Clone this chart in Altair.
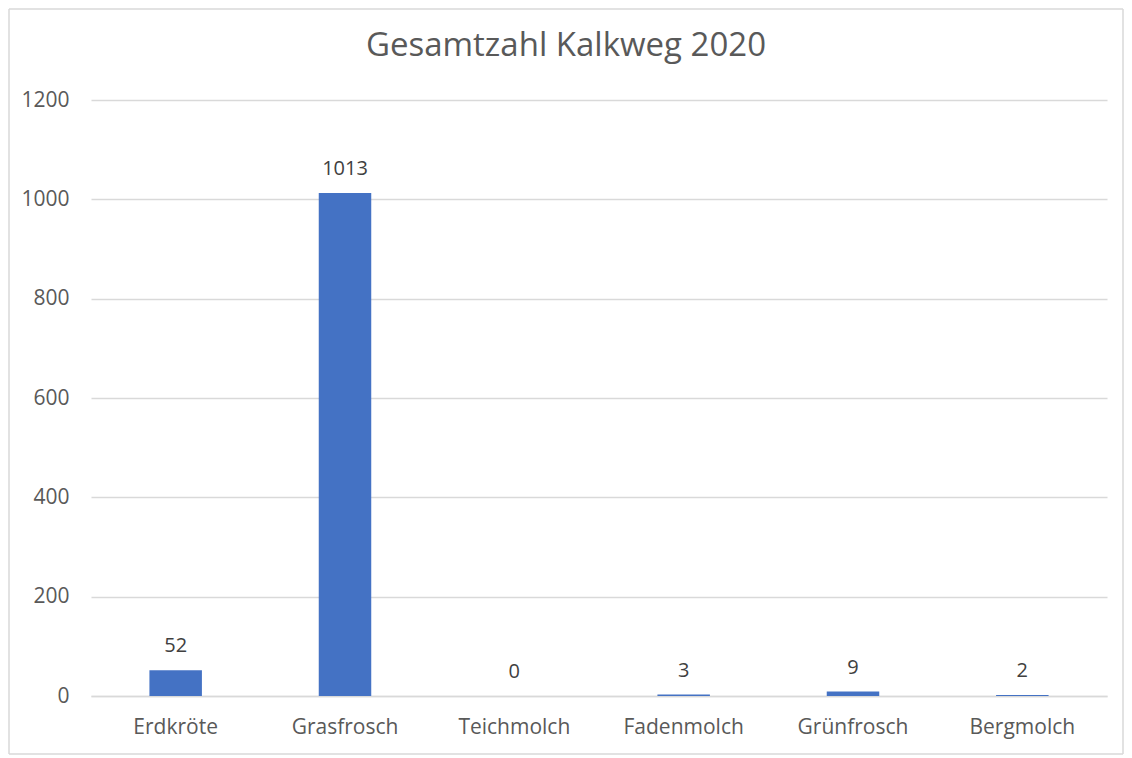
import altair as alt
import pandas as pd

species = ["Erdkröte", "Grasfrosch", "Teichmolch", "Fadenmolch", "Grünfrosch", "Bergmolch"]
counts = [52, 1013, 0, 3, 9, 2]
y_ticks = [0, 200, 400, 600, 800, 1000, 1200]

df = pd.DataFrame({"Art": species, "Anzahl": counts})

FONT = "Open Sans"
TXT = "#595959"
GRID = "#D9D9D9"
FS = 21

x = alt.X("Art:N", sort=species, title=None,
          scale=alt.Scale(paddingInner=0.69, paddingOuter=0.345),
          axis=alt.Axis(labelAngle=0, labelFont=FONT, labelFontSize=FS, labelColor=TXT,
                        labelPadding=20, ticks=False, domainColor=GRID, domainWidth=1.3,
                        grid=False))
y = alt.Y("Anzahl:Q", title=None,
          scale=alt.Scale(domain=[0, 1200], nice=False),
          axis=alt.Axis(values=y_ticks, format="d", labelFont=FONT, labelFontSize=FS,
                        labelColor=TXT, labelPadding=22, ticks=False, domain=False,
                        gridColor=GRID, gridWidth=1.3))

bars = alt.Chart(df).mark_bar(color="#4472C4").encode(x=x, y=y)
labels = alt.Chart(df).mark_text(font=FONT, fontSize=20, color="#404040",
                                 baseline="alphabetic", dy=-18).encode(
    x=alt.X("Art:N", sort=species), y="Anzahl:Q", text="Anzahl:Q")

# chart-area border (decoration, in pixels relative to the plot area)
one = pd.DataFrame({"f": [0]})
frame_style = dict(color=GRID, strokeWidth=1.5)
FL, FR, FT, FB = -82, 1032, -91, 654
left = alt.Chart(one).mark_rule(**frame_style).encode(
    x=alt.value(FL), y=alt.value(FT), y2=alt.value(FB))
right = alt.Chart(one).mark_rule(**frame_style).encode(
    x=alt.value(FR), y=alt.value(FT), y2=alt.value(FB))
top = alt.Chart(one).mark_rule(**frame_style).encode(
    y=alt.value(FT), x=alt.value(FL), x2=alt.value(FR))
bottom = alt.Chart(one).mark_rule(**frame_style).encode(
    y=alt.value(FB), x=alt.value(FL), x2=alt.value(FR))

chart = alt.layer(bars, labels, left, right, top, bottom).properties(
    width=1016, height=596,
    background="white",
    title=alt.TitleParams("Gesamtzahl Kalkweg 2020", font=FONT, fontSize=33,
                          fontWeight="normal", color=TXT, anchor="middle",
                          frame="bounds", baseline="alphabetic", offset=-81),
    padding=0,
).configure_view(strokeWidth=0)

chart.save("out.html", embed_options={"renderer": "svg", "actions": False})
